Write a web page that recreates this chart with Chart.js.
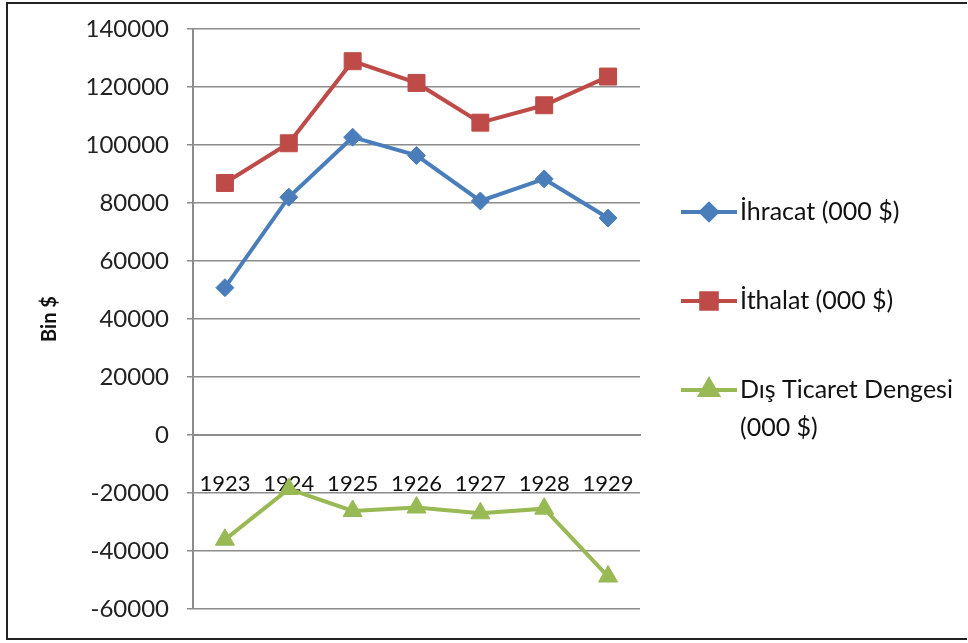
<!DOCTYPE html>
<html>
<head>
<meta charset="utf-8">
<script src="https://cdn.jsdelivr.net/npm/chart.js@4/dist/chart.umd.min.js"></script>
<style>
html,body{margin:0;padding:0;background:#fff;}
#wrap{position:relative;width:968px;height:643px;}
canvas{display:block;}
</style>
</head>
<body>
<div id="wrap"><canvas id="c" width="968" height="643"></canvas></div>
<script>
const categories = ['1923','1924','1925','1926','1927','1928','1929'];
const ihracat = [50800, 82000, 102700, 96400, 80700, 88300, 74800];
const ithalat = [86900, 100600, 128900, 121400, 107700, 113700, 123600];
const denge = [-36100, -18600, -26200, -25000, -27000, -25400, -48800];
const seriesLabels = ['İhracat (000 $)', 'İthalat (000 $)', ['Dış Ticaret Dengesi', '(000 $)']];
const yTitle = 'Bin $';

const FONT = 'Lato, "Open Sans", sans-serif';

const framePlugin = {
  id: 'frame',
  afterDraw(chart) {
    const ctx = chart.ctx;
    ctx.save();
    ctx.strokeStyle = '#222';
    ctx.lineWidth = 2;
    ctx.beginPath();
    ctx.moveTo(967, 3); ctx.lineTo(7, 3); ctx.lineTo(7, 639); ctx.lineTo(967, 639);
    ctx.stroke();
    ctx.restore();
  }
};

const legendPlugin = {
  id: 'customLegend',
  afterDraw(chart) {
    const ctx = chart.ctx;
    const rows = [212, 301, 390];
    ctx.save();
    chart.data.datasets.forEach((ds, i) => {
      const y = rows[i];
      ctx.strokeStyle = ds.borderColor;
      ctx.lineWidth = 4;
      ctx.beginPath(); ctx.moveTo(681, y); ctx.lineTo(737, y); ctx.stroke();
      Chart.helpers.drawPoint(ctx, {pointStyle: ds.pointStyle, radius: ds.legendRadius, rotation: 0, borderWidth: 1}, 709, y);
      ctx.fillStyle = ds.borderColor;
      ctx.fill();
      ctx.fillStyle = '#111';
      ctx.font = '25px ' + FONT;
      ctx.textBaseline = 'middle';
      ctx.textAlign = 'left';
      const lbl = seriesLabels[i];
      const lines = Array.isArray(lbl) ? lbl : [lbl];
      lines.forEach((t, k) => ctx.fillText(t, 740, y + k * 38));
    });
    ctx.restore();
  }
};

new Chart(document.getElementById('c'), {
  type: 'line',
  data: {
    labels: categories,
    datasets: [
      {label: 'İhracat (000 $)', data: ihracat, borderColor: '#4A7EBB', backgroundColor: '#4A7EBB',
       pointStyle: 'rectRot', pointRadius: 9, legendRadius: 8, borderWidth: 4, pointBorderWidth: 1},
      {label: 'İthalat (000 $)', data: ithalat, borderColor: '#BE4B48', backgroundColor: '#BE4B48',
       pointStyle: 'rect', pointRadius: 12, legendRadius: 11, borderWidth: 4, pointBorderWidth: 1},
      {label: 'Dış Ticaret Dengesi (000 $)', data: denge, borderColor: '#98B954', backgroundColor: '#98B954',
       pointStyle: 'triangle', pointRadius: 11, legendRadius: 10, borderWidth: 4, pointBorderWidth: 1}
    ]
  },
  options: {
    responsive: false,
    animation: false,
    devicePixelRatio: 1,
    layout: {padding: {left: 0, top: 29, right: 328, bottom: 34}},
    plugins: {legend: {display: false}, tooltip: {enabled: false}},
    elements: {line: {tension: 0}},
    scales: {
      x: {
        position: {y: 0},
        offset: true,
        grid: {display: false, drawTicks: false},
        border: {display: true, color: '#8c8c8c', width: 2},
        ticks: {color: '#111', font: {family: FONT, size: 22}, padding: 36, maxRotation: 0, autoSkip: false}
      },
      y: {
        min: -60000, max: 140000,
        ticks: {stepSize: 20000, color: '#222', font: {family: FONT, size: 24}, padding: 18,
                callback: (v) => String(v)},
        grid: {color: '#8c8c8c', lineWidth: 1.5, tickLength: 6},
        border: {display: true, color: '#8c8c8c', width: 2},
        title: {display: true, text: yTitle, color: '#111', font: {family: FONT, size: 20, weight: 'bold'}, padding: {top: 38, bottom: 0}},
        afterFit(s) { s.width = 193; s.paddingTop = 0; s.paddingBottom = 0; }
      }
    }
  },
  plugins: [framePlugin, legendPlugin]
});
</script>
</body>
</html>
